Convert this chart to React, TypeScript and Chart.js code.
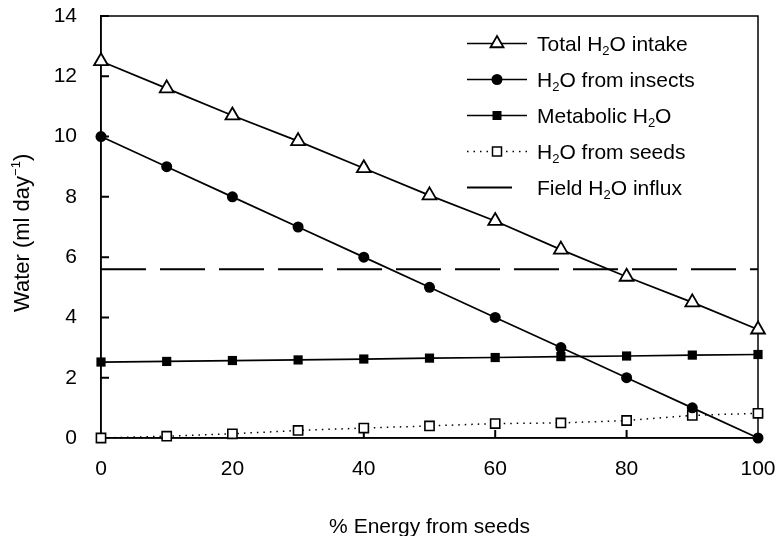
import React, { useEffect, useRef } from "react";
import { Chart, registerables } from "chart.js";

Chart.register(...registerables);

const energyFromSeeds = [0, 10, 20, 30, 40, 50, 60, 70, 80, 90, 100];
const totalIntake = [12.5, 11.6, 10.7, 9.85, 8.95, 8.05, 7.2, 6.25, 5.35, 4.5, 3.6];
const fromInsects = [10, 9, 8, 7, 6, 5, 4, 3, 2, 1, 0];
const metabolicWater = [2.52, 2.54, 2.57, 2.59, 2.62, 2.65, 2.67, 2.7, 2.72, 2.75, 2.77];
const fromSeeds = [0, 0.06, 0.14, 0.25, 0.33, 0.4, 0.48, 0.5, 0.58, 0.75, 0.82];
const fieldInflux = 5.6;
const xTickValues = [0, 20, 40, 60, 80, 100];
const yTickValues = [0, 2, 4, 6, 8, 10, 12, 14];

const FONT = '"Liberation Sans", Arial, Helvetica, sans-serif';
const FS = 21;

type Part = { t: string; sub?: boolean; sup?: boolean };

function drawRich(ctx: CanvasRenderingContext2D, parts: Part[], x: number, y: number, size: number, draw = true) {
  let cx = x;
  for (const p of parts) {
    const s = p.sub || p.sup ? Math.round(size * 0.6) : size;
    ctx.font = `${s}px ${FONT}`;
    const dy = p.sub ? size * 0.18 : p.sup ? -size * 0.4 : 0;
    if (draw) ctx.fillText(p.t, cx, y + dy);
    cx += ctx.measureText(p.t).width;
  }
  return cx - x;
}

const legendItems: { parts: Part[]; kind: string }[] = [
  { parts: [{ t: "Total H" }, { t: "2", sub: true }, { t: "O intake" }], kind: "triangle" },
  { parts: [{ t: "H" }, { t: "2", sub: true }, { t: "O from insects" }], kind: "circle" },
  { parts: [{ t: "Metabolic H" }, { t: "2", sub: true }, { t: "O" }], kind: "rect" },
  { parts: [{ t: "H" }, { t: "2", sub: true }, { t: "O from seeds" }], kind: "openrect" },
  { parts: [{ t: "Field H" }, { t: "2", sub: true }, { t: "O influx" }], kind: "influx" },
];

const decorPlugin = {
  id: "decor",
  beforeDatasetsDraw(chart: any) {
    const { ctx, chartArea } = chart;
    const { left, right, top, bottom } = chartArea;
    const xs = chart.scales.x;
    const ys = chart.scales.y;
    ctx.save();
    ctx.strokeStyle = "#000";
    ctx.lineWidth = 1.5;
    ctx.strokeRect(left, top, right - left, bottom - top);
    ctx.lineWidth = 2;
    ctx.beginPath();
    for (const v of yTickValues) {
      if (v === 0) continue;
      const py = ys.getPixelForValue(v);
      ctx.moveTo(left, py);
      ctx.lineTo(left + 8, py);
    }
    for (const v of xTickValues) {
      if (v === 0 || v === 100) continue;
      const px = xs.getPixelForValue(v);
      ctx.moveTo(px, bottom);
      ctx.lineTo(px, bottom - 8);
    }
    ctx.stroke();
    ctx.restore();
  },
  afterDraw(chart: any) {
    const { ctx, chartArea } = chart;
    ctx.save();
    ctx.fillStyle = "#000";
    ctx.strokeStyle = "#000";
    ctx.textBaseline = "alphabetic";
    ctx.textAlign = "left";

    // x title
    ctx.font = `${FS}px ${FONT}`;
    const xt = "% Energy from seeds";
    const xw = ctx.measureText(xt).width;
    ctx.fillText(xt, (chartArea.left + chartArea.right) / 2 - xw / 2, 533);

    // y title (rotated)
    ctx.save();
    ctx.translate(29, 312);
    ctx.rotate(-Math.PI / 2);
    drawRich(ctx, [{ t: "Water (ml day" }, { t: "\u22121", sup: true }, { t: ")" }], 0, 0, 22);
    ctx.restore();

    // legend
    const lx0 = 467;
    const lx1 = 527;
    const mx = 497;
    const tx = 537;
    legendItems.forEach((item, i) => {
      const y = 43.5 + i * 36;
      ctx.save();
      ctx.lineWidth = 1.7;
      if (item.kind === "openrect") {
        ctx.lineWidth = 1.5;
        ctx.setLineDash([1.5, 5]);
        ctx.beginPath();
        ctx.moveTo(lx0, y);
        ctx.lineTo(lx1, y);
        ctx.stroke();
        ctx.setLineDash([]);
      } else if (item.kind === "influx") {
        ctx.lineWidth = 2;
        ctx.beginPath();
        ctx.moveTo(lx0, y);
        ctx.lineTo(512, y);
        ctx.stroke();
      } else {
        ctx.beginPath();
        ctx.moveTo(lx0, y);
        ctx.lineTo(lx1, y);
        ctx.stroke();
      }
      ctx.lineWidth = 1.8;
      if (item.kind === "triangle") {
        const r = 7.5;
        ctx.beginPath();
        ctx.moveTo(mx, y - r);
        ctx.lineTo(mx + r * 0.866, y + r / 2);
        ctx.lineTo(mx - r * 0.866, y + r / 2);
        ctx.closePath();
        ctx.fillStyle = "#fff";
        ctx.fill();
        ctx.stroke();
      } else if (item.kind === "circle") {
        ctx.beginPath();
        ctx.arc(mx, y, 5.5, 0, Math.PI * 2);
        ctx.fillStyle = "#000";
        ctx.fill();
      } else if (item.kind === "rect") {
        ctx.fillStyle = "#000";
        ctx.fillRect(mx - 4.5, y - 4.5, 9, 9);
      } else if (item.kind === "openrect") {
        ctx.fillStyle = "#fff";
        ctx.fillRect(mx - 4.5, y - 4.5, 9, 9);
        ctx.lineWidth = 1.5;
        ctx.strokeRect(mx - 4.5, y - 4.5, 9, 9);
      }
      ctx.restore();
      ctx.fillStyle = "#000";
      drawRich(ctx, item.parts, tx, y + 7.5, FS);
    });
    ctx.restore();
  },
};

function zeroPad(s: any) {
  s.paddingTop = 0;
  s.paddingBottom = 0;
  s.paddingLeft = 0;
  s.paddingRight = 0;
}

export default function App() {
  const ref = useRef<HTMLCanvasElement | null>(null);
  useEffect(() => {
    if (!ref.current) return;
    const pts = (ys: number[]) => energyFromSeeds.map((x, i) => ({ x, y: ys[i] }));
    const chart = new Chart(ref.current, {
      type: "line",
      data: {
        datasets: [
          {
            label: "Total H2O intake",
            data: pts(totalIntake),
            borderColor: "#000",
            borderWidth: 1.7,
            pointStyle: "triangle",
            pointRadius: 8,
            pointBackgroundColor: "#fff",
            pointBorderColor: "#000",
            pointBorderWidth: 1.8,
            clip: false,
          },
          {
            label: "H2O from insects",
            data: pts(fromInsects),
            borderColor: "#000",
            borderWidth: 1.7,
            pointStyle: "circle",
            pointRadius: 5.5,
            pointBackgroundColor: "#000",
            pointBorderColor: "#000",
            pointBorderWidth: 0,
            clip: false,
          },
          {
            label: "Metabolic H2O",
            data: pts(metabolicWater),
            borderColor: "#000",
            borderWidth: 1.7,
            pointStyle: "rect",
            pointRadius: 6.5,
            pointBackgroundColor: "#000",
            pointBorderColor: "#000",
            pointBorderWidth: 0,
            clip: false,
          },
          {
            label: "H2O from seeds",
            data: pts(fromSeeds),
            borderColor: "#000",
            borderWidth: 1.5,
            borderDash: [1.5, 5],
            pointStyle: "rect",
            pointRadius: 6.5,
            pointBackgroundColor: "#fff",
            pointBorderColor: "#000",
            pointBorderWidth: 1.6,
            clip: false,
          },
          {
            label: "Field H2O influx",
            data: [
              { x: energyFromSeeds[0], y: fieldInflux },
              { x: energyFromSeeds[energyFromSeeds.length - 1], y: fieldInflux },
            ],
            borderColor: "#000",
            borderWidth: 2,
            borderDash: [45, 14],
            pointRadius: 0,
            clip: false,
          },
        ],
      },
      options: {
        animation: false,
        responsive: false,
        devicePixelRatio: 1,
        layout: { padding: { top: 16, right: 20, left: 0, bottom: 0 } },
        plugins: { legend: { display: false }, tooltip: { enabled: false } },
        elements: { line: { tension: 0 } },
        scales: {
          x: {
            type: "linear",
            min: 0,
            max: 100,
            grid: { display: false },
            border: { display: true, color: "#000", width: 1.5 },
            ticks: {
              color: "#000",
              font: { family: FONT, size: FS },
              padding: 11,
              maxRotation: 0,
              autoSkip: false,
            },
            afterBuildTicks: (s: any) => {
              s.ticks = xTickValues.map((v) => ({ value: v }));
            },
            afterFit: (s: any) => {
              s.height = 98;
              zeroPad(s);
            },
          },
          y: {
            type: "linear",
            min: 0,
            max: 14,
            grid: { display: false },
            border: { display: true, color: "#000", width: 1.5 },
            ticks: {
              color: "#000",
              font: { family: FONT, size: FS },
              padding: 16,
              autoSkip: false,
            },
            afterBuildTicks: (s: any) => {
              s.ticks = yTickValues.map((v) => ({ value: v }));
            },
            afterFit: (s: any) => {
              s.width = 101;
              zeroPad(s);
            },
          },
        },
      } as any,
      plugins: [decorPlugin],
    });
    return () => chart.destroy();
  }, []);
  return (
    <div style={{ position: "absolute", left: 0, top: 0, width: 778, height: 536, background: "#fff" }}>
      <canvas ref={ref} width={778} height={536} style={{ display: "block" }} />
    </div>
  );
}
